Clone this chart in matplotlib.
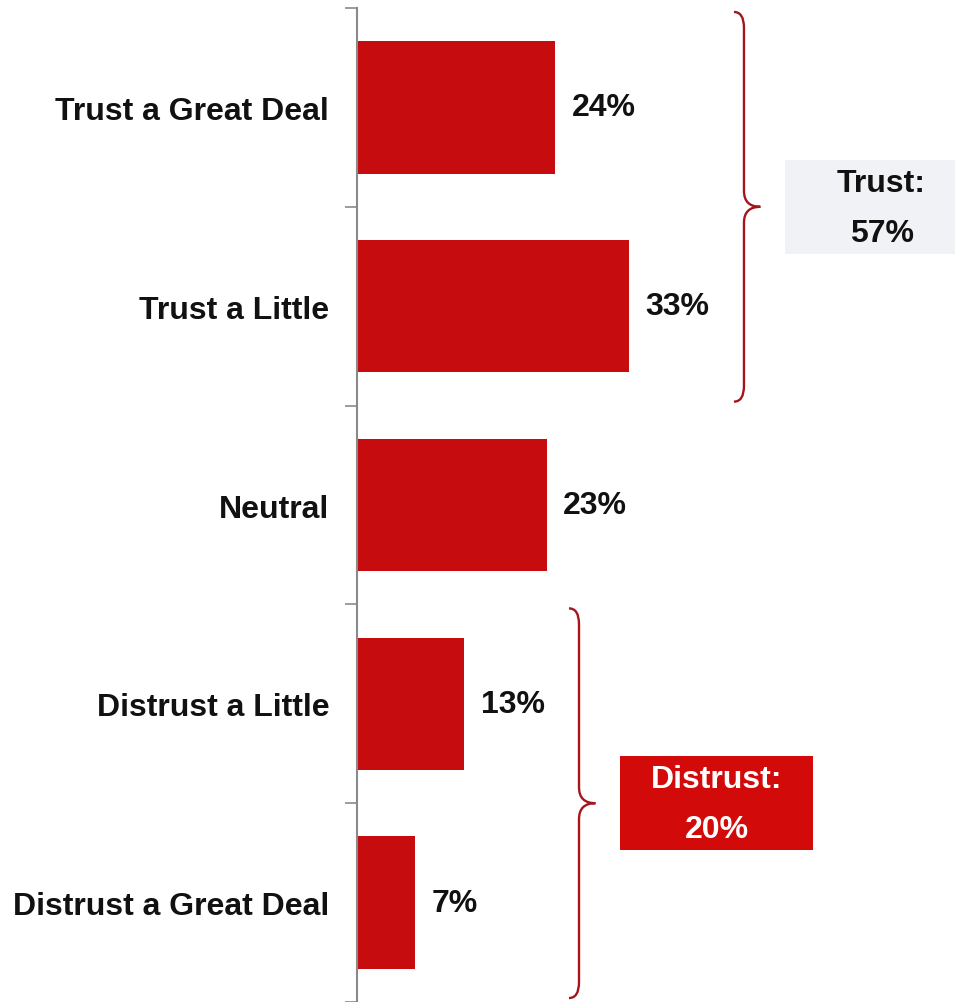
import numpy as np
import matplotlib.pyplot as plt
from matplotlib.path import Path
from matplotlib.patches import PathPatch, Rectangle

plt.rcParams['font.family'] = ['Liberation Sans', 'DejaVu Sans']

# ======================= Data =======================
categories = ["Trust a Great Deal", "Trust a Little", "Neutral",
              "Distrust a Little", "Distrust a Great Deal"]
values = [24, 33, 23, 13, 7]

group_names = ["Trust", "Distrust"]
group_ranges = [(0, 1), (3, 4)]   # first and last category index of each group
group_totals = [57, 20]
# ====================================================

BAR_COLOR = "#c60c0e"
BRACE_COLOR = "#a5161c"
FS = 23


def draw_brace(ax, x0, y_top, y_bot, width=3.2, r=0.08):
    # curly brace pointing right, x in data units, y in category units
    xm = x0 + width * 0.38
    xt = x0 + width
    ymid = (y_top + y_bot) / 2
    verts = [
        (x0, y_top), (xm, y_top), (xm, y_top + r),
        (xm, ymid - r),
        (xm, ymid), (xt, ymid),
        (xm, ymid), (xm, ymid + r),
        (xm, y_bot - r),
        (xm, y_bot), (x0, y_bot),
    ]
    codes = [Path.MOVETO, Path.CURVE3, Path.CURVE3,
             Path.LINETO,
             Path.CURVE3, Path.CURVE3,
             Path.CURVE3, Path.CURVE3,
             Path.LINETO,
             Path.CURVE3, Path.CURVE3]
    ax.add_patch(PathPatch(Path(verts, codes), fill=False,
                           edgecolor=BRACE_COLOR, lw=1.7, clip_on=False))
    return xt, ymid


fig = plt.figure(figsize=(9.55, 10.03), dpi=100)
ax = fig.add_axes([357 / 955, 0.0, 598 / 955, 994 / 1003])

y = np.arange(len(categories))
ax.barh(y, values, height=0.665, color=BAR_COLOR, zorder=2)

for yi, v in zip(y, values):
    ax.text(v + 2.0, yi, f"{v}%", va="center", ha="left",
            fontsize=FS, fontweight="bold", color="#111111")

ax.set_xlim(0, 72.5)
ax.set_ylim(len(categories) - 0.5, -0.5)

ax.set_yticks(y)
ax.set_yticklabels(categories, fontsize=FS, fontweight="bold", color="#111111")
ax.set_yticks(np.arange(-0.5, len(categories)), minor=True)
ax.tick_params(axis="y", which="major", length=0, pad=20)
ax.tick_params(axis="y", which="minor", length=9, width=1.2, color="#8a8a8a")
ax.set_xticks([])

for side in ["top", "right", "bottom"]:
    ax.spines[side].set_visible(False)
ax.spines["left"].set_color("#8a8a8a")
ax.spines["left"].set_linewidth(1.5)

# group braces and summary boxes
box_styles = [
    dict(face="#f1f2f6", text="#111111"),
    dict(face="#d20a0a", text="white"),
]
box_w = 23.4
for name, (i0, i1), total, st in zip(group_names, group_ranges, group_totals, box_styles):
    x0 = max(values[i0:i1 + 1]) + 12.7
    xt, ymid = draw_brace(ax, x0, i0 - 0.48, i1 + 0.48)
    bx = xt + 3.0
    bh = 0.475
    ax.add_patch(Rectangle((bx, ymid - bh / 2), box_w, bh,
                           facecolor=st["face"], edgecolor="none",
                           clip_on=False, zorder=1))
    cx = bx + box_w / 2
    ax.text(cx, ymid - 0.12, f"{name}:", ha="center", va="center",
            fontsize=FS, fontweight="bold", color=st["text"], zorder=3)
    ax.text(cx, ymid + 0.13, f"{total}%", ha="center", va="center",
            fontsize=FS, fontweight="bold", color=st["text"], zorder=3)

fig.savefig("out.png", dpi=100, facecolor="white")
